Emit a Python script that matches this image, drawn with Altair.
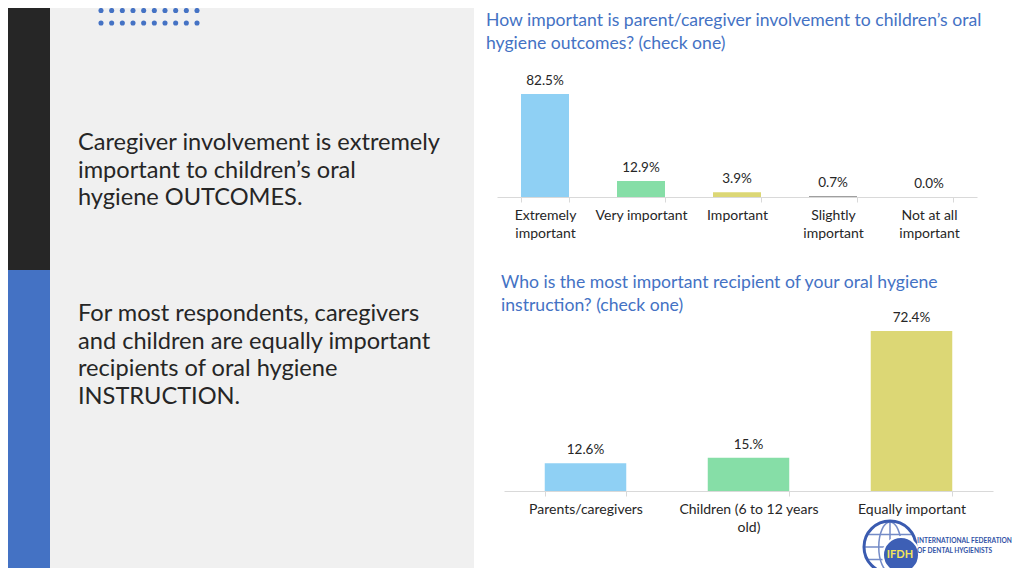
import altair as alt
import pandas as pd

# ---------------- data ----------------
cats1 = ["Extremely important", "Very important", "Important", "Slightly important", "Not at all important"]
vals1 = [82.5, 12.9, 3.9, 0.7, 0.0]
labels1 = ["82.5%", "12.9%", "3.9%", "0.7%", "0.0%"]

cats2 = ["Parents/caregivers", "Children (6 to 12 years old)", "Equally important"]
vals2 = [12.6, 15.0, 72.4]
labels2 = ["12.6%", "15.%", "72.4%"]

title1 = ["How important is parent/caregiver involvement to children’s oral", "hygiene outcomes? (check one)"]
title2 = ["Who is the most important recipient of your oral hygiene", "instruction? (check one)"]
text1 = ["Caregiver involvement is extremely", "important to children’s oral", "hygiene OUTCOMES."]
text2 = ["For most respondents, caregivers", "and children are equally important", "recipients of oral hygiene", "INSTRUCTION."]

wrap1 = {"Extremely important": ["Extremely", "important"],
         "Slightly important": ["Slightly", "important"],
         "Not at all important": ["Not at all", "important"]}
wrap2 = {"Children (6 to 12 years old)": ["Children (6 to 12 years", "old)"]}

logo_lines = ["INTERNATIONAL FEDERATION", "OF DENTAL HYGIENISTS"]

# ---------------- styles ----------------
FONT = "Lato"
W, H = 1008, 560
M = 8  # page margin offset
BLUE = "#4472C4"
colors1 = ["#8FD0F4", "#86DEA7", "#DCD775", "#7F7F7F", "#A5A5A5"]
colors2 = ["#8FD0F4", "#86DEA7", "#DCD775"]


def px(v):
    return v - M


one = alt.Data(values=[{"k": 0}])


def rect(x1, x2, y1, y2, color):
    return alt.Chart(one).mark_rect(color=color).encode(
        x=alt.value(px(x1)), x2=alt.value(px(x2)), y=alt.value(px(y1)), y2=alt.value(px(y2)))


def text(lines, x, y, size, color, lh, weight="normal", align="left"):
    return alt.Chart(one).mark_text(
        text=lines, align=align, baseline="alphabetic", font=FONT, fontSize=size,
        color=color, lineHeight=lh, fontWeight=weight
    ).encode(x=alt.value(px(x)), y=alt.value(px(y)))


def wrap_expr(wrap):
    expr = "datum.label"
    for k, v in wrap.items():
        arr = "[" + ", ".join("'" + s + "'" for s in v) + "]"
        expr = f"datum.value == '{k}' ? {arr} : ({expr})"
    return expr


def bar_chart(cats, vals, labels, colors, xr, yr, wrap):
    df = pd.DataFrame({"cat": cats, "val": vals, "lab": labels})
    base = alt.Chart(df)
    x = alt.X("cat:N", sort=cats,
              scale=alt.Scale(range=[px(xr[0]), px(xr[1])], paddingInner=0.5, paddingOuter=0.25),
              axis=alt.Axis(orient="bottom", offset=px(yr[0]) - H, title=None, labelAngle=0,
                            labelFont=FONT, labelFontSize=14, labelColor="#262626",
                            labelLineHeight=18, labelPadding=6, labelLimit=300,
                            domainColor="#D9D9D9", tickColor="#D9D9D9", tickSize=5,
                            tickBand="extent", grid=False, labelOverlap=False,
                            labelExpr=wrap_expr(wrap)))
    y = alt.Y("val:Q", scale=alt.Scale(domain=[0, 100], range=[px(yr[0]), px(yr[1])]), axis=None)
    bars = base.mark_bar().encode(
        x=x, y=y,
        color=alt.Color("cat:N", scale=alt.Scale(domain=cats, range=colors), legend=None))
    tx = base.mark_text(dy=-13, baseline="middle", font=FONT, fontSize=13.5, color="#262626").encode(
        x=x, y=y, text="lab:N")
    return alt.layer(bars, tx)


# chart 1: x band 497..977 (screen), baseline 197, 100% -> 124.8px
c1 = bar_chart(cats1, vals1, labels1, colors1, (497, 977), (197, 197 - 124.8), wrap1)
# chart 2: x band 504..993, baseline 491, 100% -> 221px
c2 = bar_chart(cats2, vals2, labels2, colors2, (504, 993), (491, 491 - 221), wrap2)

# dots
dots_df = pd.DataFrame([{"c": c, "r": r} for r in range(2) for c in range(10)])
dots = alt.Chart(dots_df).mark_circle(color=BLUE, opacity=1, size=26).encode(
    x=alt.X("c:Q", scale=alt.Scale(domain=[0, 9], range=[px(101), px(197)]), axis=None),
    y=alt.Y("r:Q", scale=alt.Scale(domain=[0, 1], range=[px(10.5), px(23)]), axis=None))

# logo
globe_path = ("M0,-1 A0.45,1 0 1,0 0,1 A0.45,1 0 1,0 0,-1 "
              "M-1,0 L1,0 M-0.87,-0.5 L0.87,-0.5 M-0.87,0.5 L0.87,0.5 M0,-1 L0,1")
globe_lines = alt.Chart(one).mark_point(shape=globe_path, filled=False, stroke="#3A5BB0",
                                        strokeWidth=1.5, size=50 * 50).encode(
    x=alt.value(px(890)), y=alt.value(px(547)))
globe = alt.Chart(one).mark_point(shape="circle", filled=False, stroke="#3A5BB0",
                                  strokeWidth=3, size=52 * 52, opacity=1).encode(
    x=alt.value(px(890)), y=alt.value(px(547)))
inner = alt.Chart(one).mark_point(shape="circle", filled=True, fill="#3D5FB5", stroke="white",
                                  strokeWidth=2, size=36 * 36, opacity=1).encode(
    x=alt.value(px(901)), y=alt.value(px(555)))
ifdh = alt.Chart(one).mark_text(text="IFDH", font=FONT, fontSize=11, fontWeight="bold",
                                color="#F3E65A", baseline="middle", align="center").encode(
    x=alt.value(px(900)), y=alt.value(px(555)))
logo_txt = text(logo_lines, 917, 543, 6.6, "#3152A6", 9.5, weight="bold")

layers = [
    rect(M, 474, M, 576, "#F0F0F0"),
    rect(M, 50, M, 270, "#262626"),
    rect(M, 50, 270, 576, BLUE),
    dots,
    text(text1, 78, 150, 23.6, "#262626", 27.5),
    text(text2, 78, 321, 23.6, "#262626", 27.5),
    text(title1, 486, 25.5, 17.6, BLUE, 23),
    text(title2, 501, 288, 17.6, BLUE, 23),
    c1, c2,
    globe_lines, globe, inner, ifdh, logo_txt,
]

chart = alt.layer(*layers).resolve_scale(
    x="independent", y="independent", color="independent"
).resolve_axis(x="independent", y="independent").properties(
    width=W, height=H, padding=0, autosize=alt.AutoSizeParams(type="none"), background="white"
).configure_view(stroke=None)

chart.save("out.html", embed_options={"renderer": "svg", "actions": False})
